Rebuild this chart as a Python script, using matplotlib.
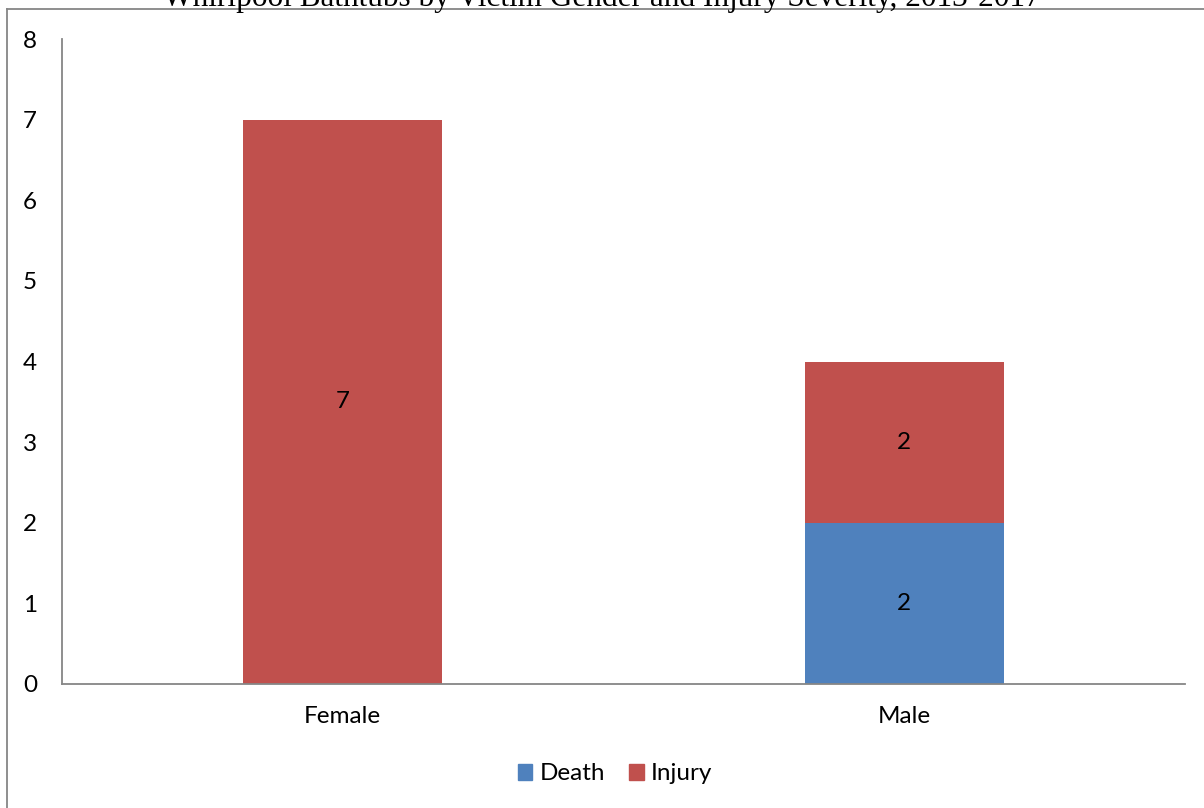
import matplotlib

matplotlib.use('Agg')
import matplotlib.pyplot as plt
from matplotlib.patches import Patch
from matplotlib.lines import Line2D

categories = ['Female', 'Male']
death = [0, 2]
injury = [7, 2]
yticks = [0, 1, 2, 3, 4, 5, 6, 7, 8]
title = 'Whirlpool Bathtubs by Victim Gender and Injury Severity, 2013-2017'

DEATH_COLOR = '#4F81BD'
INJURY_COLOR = '#C0504D'
AXIS_GRAY = '#868686'
FS = 17.5

plt.rcParams['font.family'] = ['Lato', 'DejaVu Sans']

W, H = 1204, 808
fig = plt.figure(figsize=(W / 100, H / 100), dpi=100)
ax = fig.add_axes([62 / W, 1 - 684 / H, (1185 - 62) / W, (684 - 39) / H])

x = list(range(len(categories)))
width = 199 / 561.5
ax.bar(x, death, width, color=DEATH_COLOR, label='Death')
ax.bar(x, injury, width, bottom=death, color=INJURY_COLOR, label='Injury')

# value labels, centred in each segment
for i in x:
    if death[i] > 0:
        ax.text(i, death[i] / 2, str(death[i]), ha='center', va='center', fontsize=FS)
    if injury[i] > 0:
        ax.text(i, death[i] + injury[i] / 2, str(injury[i]), ha='center', va='center', fontsize=FS)

ax.set_xlim(-0.5, len(categories) - 0.5)
ax.set_ylim(0, 8)
ax.set_yticks(yticks)
ax.set_xticks(x)
ax.set_xticklabels(categories)
ax.tick_params(axis='both', length=0, labelsize=FS)
ax.tick_params(axis='y', pad=18)
ax.tick_params(axis='x', pad=16)
for s in ['top', 'right']:
    ax.spines[s].set_visible(False)
for s in ['left', 'bottom']:
    ax.spines[s].set_color(AXIS_GRAY)
    ax.spines[s].set_linewidth(1.3)

# chart area border (only left and top edges fall inside the picture)
fig.add_artist(Line2D([6.5 / W, 6.5 / W], [0, 1 - 9 / H], color=AXIS_GRAY, lw=1.3,
                      transform=fig.transFigure))
fig.add_artist(Line2D([6.5 / W, 1], [1 - 9 / H, 1 - 9 / H], color=AXIS_GRAY, lw=1.3,
                      transform=fig.transFigure))

fig.text(602 / W, 1 - 6 / H, title, ha='center', va='baseline',
         family='Liberation Serif', fontsize=22.5)

handles = [Patch(color=DEATH_COLOR), Patch(color=INJURY_COLOR)]
fig.legend(handles, ['Death', 'Injury'], loc='center', bbox_to_anchor=(615 / W, 1 - 774 / H),
           ncol=2, frameon=False, fontsize=FS, handlelength=0.6, handleheight=0.6,
           handletextpad=0.3, columnspacing=1.0)

fig.savefig('out.png', dpi=100)
plt.close(fig)
